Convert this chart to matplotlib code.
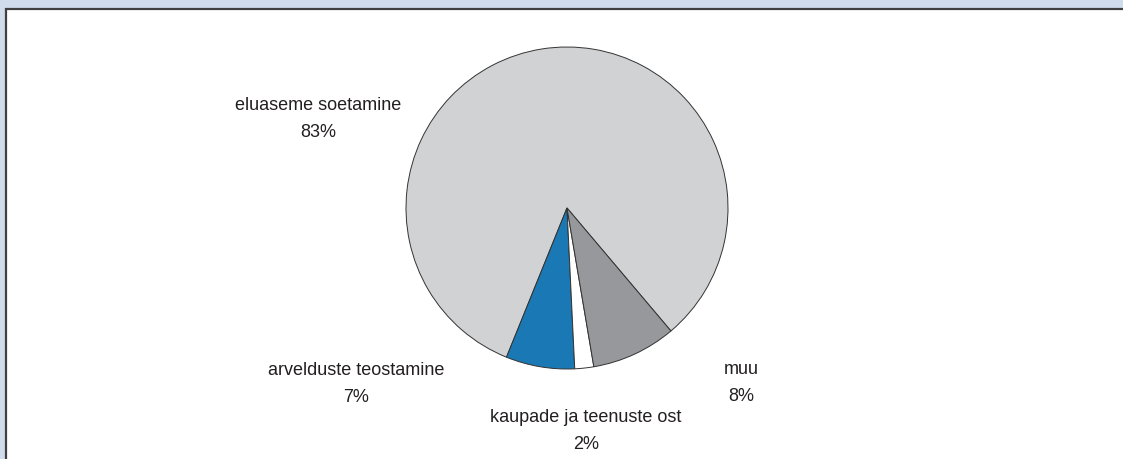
import matplotlib.pyplot as plt
from matplotlib.patches import Rectangle

categories = ['eluaseme soetamine', 'arvelduste teostamine',
              'kaupade ja teenuste ost', 'muu']
shares = [82.7, 6.9, 1.9, 8.5]
share_labels = ['83%', '7%', '2%', '8%']
colors = ['#d1d2d4', '#1a78b4', '#ffffff', '#97989b']

W, H = 1123, 459
fig = plt.figure(figsize=(W / 100, H / 100), dpi=100, facecolor='#d0dcec')

# white panel with dark frame
fig.patches.append(Rectangle((5.5 / W, -0.05), 1.1, (H - 9.5) / H + 0.05,
                             transform=fig.transFigure, facecolor='white',
                             edgecolor='#404040', linewidth=1.6, zorder=-5))

cx, cy, r = 567, H - 208, 161
ax = fig.add_axes([(cx - r) / W, (cy - r) / H, 2 * r / W, 2 * r / H])
ax.set_zorder(2)
ax.pie(shares, colors=colors, startangle=-49.8, radius=1,
       wedgeprops=dict(edgecolor='#333333', linewidth=0.7))
ax.set_xlim(-1, 1)
ax.set_ylim(-1, 1)
ax.axis('off')

# label anchors in pixels (x, y from top)
label_pos = [(318, 119), (356, 384), (586, 431), (741, 383)]
for name, pct, (px, py) in zip(categories, share_labels, label_pos):
    fig.text(px / W, 1 - py / H, name + '\n' + pct, ha='center', va='center',
             fontsize=13, family='Liberation Sans', color='#231f20',
             linespacing=1.75, zorder=3)

fig.savefig('out.png', dpi=100, facecolor=fig.get_facecolor())
